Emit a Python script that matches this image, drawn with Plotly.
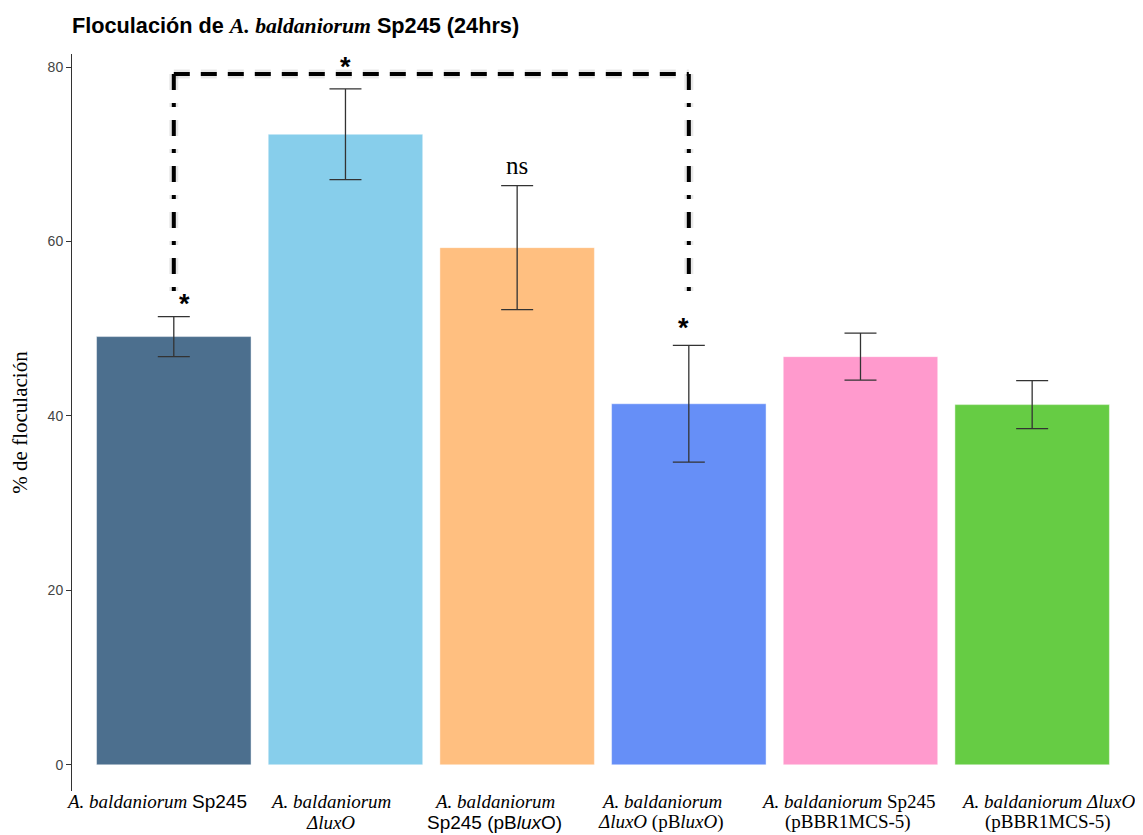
import plotly.graph_objects as go

SERIF = "Liberation Serif, Times New Roman, serif"
SANS = "Liberation Sans, Arial, sans-serif"

# ---- data ----
categories = [
    "A. baldaniorum Sp245",
    "A. baldaniorum ΔluxO",
    "A. baldaniorum Sp245 (pBluxO)",
    "A. baldaniorum ΔluxO (pBluxO)",
    "A. baldaniorum Sp245 (pBBR1MCS-5)",
    "A. baldaniorum ΔluxO (pBBR1MCS-5)",
]
# label lines (HTML) for each category
label_line1 = [
    f"<i>A. baldaniorum</i> <span style='font-family:{SANS}'>Sp245</span>",
    "<i>A. baldaniorum</i>",
    "<i>A. baldaniorum</i>",
    "<i>A. baldaniorum</i>",
    "<i>A. baldaniorum</i> Sp245",
    "<i>A. baldaniorum ΔluxO</i>",
]
label_line2 = [
    "",
    "<i>ΔluxO</i>",
    f"<span style='font-family:{SANS}'>Sp245 (pB<i>lux</i>O)</span>",
    "<i>ΔluxO</i> (pB<i>luxO</i>)",
    "(pBBR1MCS-5)",
    "(pBBR1MCS-5)",
]
label_shift = [-0.10, -0.09, -0.13, -0.16, -0.07, 0.095]  # label offset from bar centre (category units)

floc_mean = [49.1, 72.3, 59.3, 41.4, 46.8, 41.3]
floc_err = [2.3, 5.2, 7.1, 6.7, 2.7, 2.75]
bar_colors = ["#4C6F8E", "#87CEEB", "#FFBF80", "#668FF7", "#FF9ACD", "#66CC44"]

# significance bracket (between bar 0 and bar 3)
bracket_pair = [0, 3]
bracket_top = 79.2
bracket_left_end = 54.0
bracket_right_end = 53.1
sig_marks = [  # (category index, x shift in category units, y, text)
    (1, 0.0, 80.0, "*"),
    (0, 0.06, 52.8, "*"),
    (3, -0.03, 50.1, "*"),
    (2, 0.0, 68.7, "ns"),
]

# page has an 8px body margin: figure is drawn 8px right/down in the window
W, H, OFF = 1135, 827, 8

xpos = list(range(len(categories)))

fig = go.Figure()
fig.add_trace(go.Bar(
    x=xpos, y=floc_mean, width=0.9,
    marker=dict(color=bar_colors, line=dict(color="rgba(255,255,255,0.45)", width=1)),
    error_y=dict(type="data", array=floc_err, color="#333333", thickness=1.3, width=16),
    hoverinfo="skip", showlegend=False,
))

xl, xr = bracket_pair
# shadows
fig.add_trace(go.Scatter(
    x=[xl, xr], y=[bracket_top, bracket_top], mode="lines",
    line=dict(color="rgba(0,0,0,0.09)", width=9, dash="16px,11px"),
    hoverinfo="skip", showlegend=False))
for xx, yend in [(xl, bracket_left_end), (xr, bracket_right_end)]:
    fig.add_trace(go.Scatter(
        x=[xx, xx], y=[bracket_top, yend], mode="lines",
        line=dict(color="rgba(0,0,0,0.09)", width=9, dash="16px,13px,4px,13px"),
        hoverinfo="skip", showlegend=False))
# main lines
fig.add_trace(go.Scatter(
    x=[xl, xr], y=[bracket_top, bracket_top], mode="lines",
    line=dict(color="black", width=4, dash="16px,11px"),
    hoverinfo="skip", showlegend=False))
for xx, yend in [(xl, bracket_left_end), (xr, bracket_right_end)]:
    fig.add_trace(go.Scatter(
        x=[xx, xx], y=[bracket_top, yend], mode="lines",
        line=dict(color="black", width=4, dash="16px,13px,4px,13px"),
        hoverinfo="skip", showlegend=False))

for ci, dx, yy, txt in sig_marks:
    if txt == "*":
        font = dict(family=SANS, size=27, color="black")
        text = f"<b>{txt}</b>"
    else:
        font = dict(family=SERIF, size=25, color="black")
        text = txt
    fig.add_annotation(x=ci + dx, y=yy, text=text,
                       showarrow=False, font=font, yanchor="middle")

# category labels (as annotations under the axis)
for i, (l1, l2, sh) in enumerate(zip(label_line1, label_line2, label_shift)):
    for txt, ys in [(l1, -10), (l2, -31)]:
        if not txt:
            continue
        fig.add_annotation(x=xpos[i] + sh, xref="x", y=0, yref="paper", text=txt,
                           showarrow=False, yanchor="middle", xanchor="center",
                           yshift=ys, font=dict(family=SERIF, size=19, color="black"))

fig.update_layout(
    width=W, height=H,
    paper_bgcolor="white", plot_bgcolor="white",
    margin=dict(l=72 - OFF, r=25, t=54 - OFF, b=44, autoexpand=False),
    title=dict(
        text=f"<b>Floculación de <i style='font-family:{SERIF}'>A. baldaniorum</i> Sp245 (24hrs)</b>",
        x=(72 - OFF) / W, xanchor="left", xref="container",
        y=1 - (25 - OFF) / H, yanchor="middle",
        font=dict(family=SANS, size=21.7, color="black"),
        automargin=False,
    ),
    bargap=0.1,
)
fig.update_xaxes(
    range=[-0.593, 5.5], tickvals=xpos, showticklabels=False,
    showline=False, showgrid=False, zeroline=False, ticks="", automargin=False,
)
fig.update_yaxes(
    range=[-3, 81.5], tickvals=[0, 20, 40, 60, 80], automargin=False,
    showline=True, linecolor="#333333", linewidth=1,
    ticks="outside", ticklen=5, tickcolor="#333333",
    showgrid=False, zeroline=False,
    tickfont=dict(family=SANS, size=14, color="#444444"),
    title=dict(text="% de floculación", font=dict(family=SERIF, size=21, color="black"), standoff=14),
)

fig.write_html("out.html")
